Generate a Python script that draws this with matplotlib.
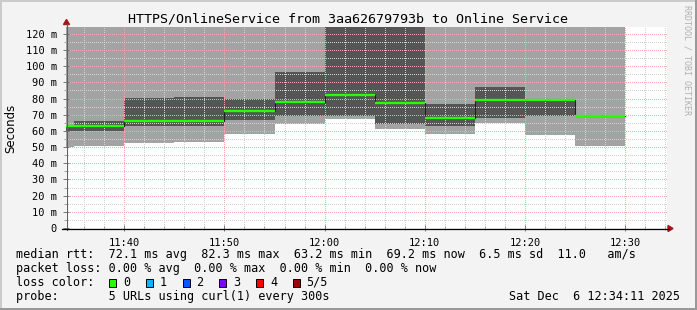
import datetime as dt
import matplotlib
matplotlib.use("Agg")
import matplotlib.pyplot as plt
from matplotlib.ticker import FixedLocator, FixedFormatter
from matplotlib.patches import Rectangle, Polygon
from matplotlib.lines import Line2D

# ---------------- data ----------------
day = "2025-12-06"
interval_end = ["11:35", "11:40", "11:45", "11:50", "11:55", "12:00",
                "12:05", "12:10", "12:15", "12:20", "12:25", "12:30"]
ping_low   = [49.8, 50.8, 52.7, 53.1, 58.2, 64.4, 67.3, 61.3, 58.2, 65.0, 57.4, 50.6]
ping_q2    = [59.9, 59.9, 63.1, 63.1, 66.7, 69.3, 69.3, 64.2, 63.1, 68.1, 69.3, 68.7]
median_rtt = [63.2, 63.2, 66.2, 66.0, 72.4, 77.8, 82.3, 77.3, 68.1, 79.0, 79.0, 69.2]
ping_q4    = [63.6, 66.0, 80.2, 80.9, 79.6, 96.3, 141.0, 133.0, 76.5, 87.2, 79.3, 69.4]
ping_high  = [168.0, 152.0, 171.0, 160.0, 149.0, 185.0, 210.0, 196.0, 158.0, 175.0, 163.0, 147.0]

y_major = [0, 10, 20, 30, 40, 50, 60, 70, 80, 90, 100, 110, 120]
y_major_labels = ["0", "10 m", "20 m", "30 m", "40 m", "50 m", "60 m", "70 m",
                  "80 m", "90 m", "100 m", "110 m", "120 m"]
y_minor = [5, 15, 25, 35, 45, 55, 65, 75, 85, 95, 105, 115]
x_major = ["11:40", "11:50", "12:00", "12:10", "12:20", "12:30"]
x_major_labels = ["11:40", "11:50", "12:00", "12:10", "12:20", "12:30"]
x_minor = ["11:36", "11:38", "11:42", "11:44", "11:46", "11:48", "11:52", "11:54",
           "11:56", "11:58", "12:02", "12:04", "12:06", "12:08", "12:12", "12:14",
           "12:16", "12:18", "12:22", "12:24", "12:26", "12:28", "12:32", "12:34"]
x_start, x_end = "11:34:11", "12:34:11"

title = "HTTPS/OnlineService from 3aa62679793b to Online Service"
legend_lines = [
    "median rtt:  72.1 ms avg  82.3 ms max  63.2 ms min  69.2 ms now  6.5 ms sd  11.0   am/s",
    "packet loss: 0.00 % avg  0.00 % max  0.00 % min  0.00 % now",
    "loss color:",
    "probe:       5 URLs using curl(1) every 300s",
]
loss_labels = ["0", "1", "2", "3", "4", "5/5"]
loss_colors = ["#26ff00", "#00b8ff", "#0059ff", "#7e00ff", "#ff0000", "#a10000"]
stamp = "Sat Dec  6 12:34:11 2025"
watermark = "RRDTOOL / TOBI OETIKER"


def T(s):
    fmt = "%Y-%m-%d %H:%M:%S" if s.count(":") == 2 else "%Y-%m-%d %H:%M"
    return dt.datetime.strptime(day + " " + s, fmt)


W, H = 697, 310
fig = plt.figure(figsize=(W / 100, H / 100), dpi=100, facecolor="#f3f3f3")

def fx(px):
    return px / W

def fy(py):
    return 1 - py / H

L, R, TOP, BOT = 66, 667, 27, 228
ax = fig.add_axes([fx(L), fy(BOT), (R - L) / W, (BOT - TOP) / H])
ax.set_facecolor("white")

ends = [T(s) for s in interval_end]
starts = [e - dt.timedelta(minutes=5) for e in ends]
xs = starts + [ends[-1]]

def ext(v):
    return list(v) + [v[-1]]

ax.fill_between(xs, ext(ping_low), ext(ping_high), step="post",
                color="#a3a3a3", linewidth=0, zorder=1)
ax.fill_between(xs, ext(ping_q2), ext(ping_q4), step="post",
                color="#555555", linewidth=0, zorder=1.2)
ax.step(xs, ext(median_rtt), where="post", color="#202020", lw=0.8, zorder=2.8)
ax.hlines(median_rtt, starts, ends, color="#26ff00", lw=1.7, zorder=3)

ax.set_xlim(T(x_start), T(x_end))
ax.set_ylim(0, 124.2)

ax.yaxis.set_major_locator(FixedLocator(y_major))
ax.yaxis.set_major_formatter(FixedFormatter(y_major_labels))
ax.yaxis.set_minor_locator(FixedLocator(y_minor))
xmaj = [matplotlib.dates.date2num(T(s)) for s in x_major]
xmin = [matplotlib.dates.date2num(T(s)) for s in x_minor]
ax.xaxis.set_major_locator(FixedLocator(xmaj))
ax.xaxis.set_major_formatter(FixedFormatter(x_major_labels))
ax.xaxis.set_minor_locator(FixedLocator(xmin))

ax.set_axisbelow(False)
dots = (0, (1, 2))
ax.grid(which="major", color="#f5aaaa", linestyle=dots, linewidth=0.72, antialiased=False)
ax.grid(which="minor", color="#d2d2d2", linestyle=dots, linewidth=0.72, antialiased=False)

mono = "DejaVu Sans Mono"
ax.tick_params(axis="both", which="major", direction="inout", length=4,
               width=0.7, color="#777777", labelsize=7.5, labelcolor="#000000")
ax.tick_params(axis="both", which="minor", direction="inout", length=3,
               width=0.6, color="#999999")
ax.tick_params(axis="y", which="major", pad=4.5)
ax.tick_params(axis="x", which="major", pad=5)
for lab in ax.get_xticklabels() + ax.get_yticklabels():
    lab.set_fontfamily(mono)

for s in ["top", "right", "left", "bottom"]:
    ax.spines[s].set_visible(False)

# axes lines with arrows (figure pixel coords)
fig.add_artist(Line2D([fx(66.5), fx(66.5)], [fy(230), fy(24)], color="#606060", lw=0.8))
fig.add_artist(Line2D([fx(62), fx(669)], [fy(228.5), fy(228.5)], color="#000000", lw=0.9))
fig.add_artist(Polygon([[fx(63.5), fy(24.5)], [fx(69.5), fy(24.5)], [fx(66.5), fy(19.5)]],
                       closed=True, color="#a01818"))
fig.add_artist(Polygon([[fx(668), fy(225.5)], [fx(668), fy(231.5)], [fx(673), fy(228.5)]],
                       closed=True, color="#a01818"))

# title
fig.text(fx(348), fy(19), title, family=mono, fontsize=9.6, ha="center", va="center")
# unit label
fig.text(fx(11), fy(128), "Seconds", family="DejaVu Sans", fontsize=8.5,
         rotation=90, ha="center", va="center")
# watermark
fig.text(fx(687), fy(60), watermark, family=mono, fontsize=6, color="#b0b0b0",
         rotation=-90, ha="center", va="center")

# legend lines
leg_y = [254.3, 268.3, 282.3, 296.2]
for txt, yy in zip(legend_lines, leg_y):
    fig.text(fx(16), fy(yy), txt, family=mono, fontsize=8.5, ha="left", va="center")
fig.text(fx(680), fy(leg_y[3]), stamp, family=mono, fontsize=8.5, ha="right", va="center")

box_x = [108.7, 145.7, 182.7, 219.3, 256.3, 293.3]
lab_x = [123.5, 160.0, 196.5, 233.5, 270.0, 306.5]
for bx, lx, c, lab in zip(box_x, lab_x, loss_colors, loss_labels):
    fig.add_artist(Rectangle((fx(bx), fy(286.5)), 7 / W, 7.5 / H, facecolor=c,
                             edgecolor="#000000", lw=0.7))
    fig.text(fx(lx), fy(leg_y[2]), lab, family=mono, fontsize=8.5, ha="left", va="center")

# 3D frame
fig.add_artist(Rectangle((0, 1 - 2 / H), 1, 2 / H, facecolor="#cbcbcb", lw=0))
fig.add_artist(Rectangle((0, 0), 2 / W, 1, facecolor="#cbcbcb", lw=0))
fig.add_artist(Rectangle((0, 0), 1, 2 / H, facecolor="#999999", lw=0))
fig.add_artist(Rectangle((1 - 2 / W, 0), 2 / W, 1, facecolor="#999999", lw=0))

fig.savefig("out.png", dpi=100, facecolor=fig.get_facecolor())
